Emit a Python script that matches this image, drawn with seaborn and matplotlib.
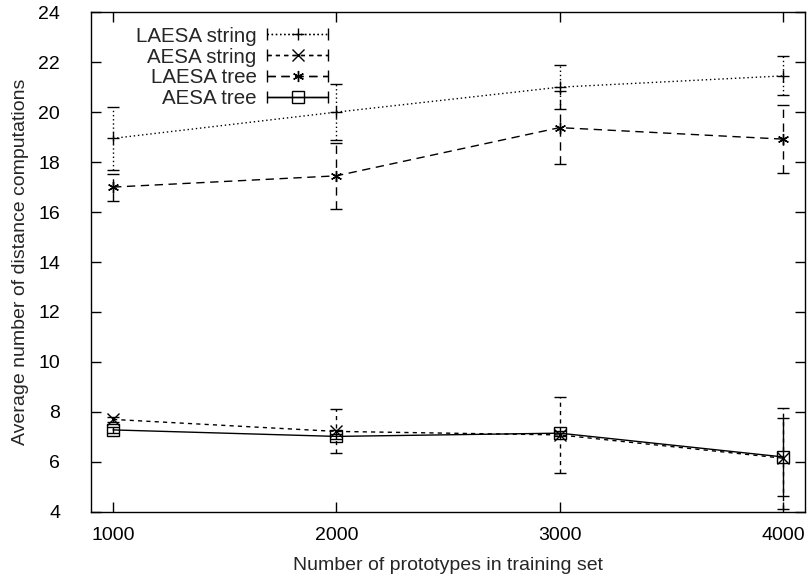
import matplotlib
matplotlib.use("Agg")
import matplotlib.pyplot as plt
import numpy as np
import seaborn as sns
from matplotlib.container import ErrorbarContainer
from matplotlib.legend_handler import HandlerErrorbar

# training set sizes
prototypes = [1000, 2000, 3000, 4000]

# mean number of distance computations
laesa_string = [18.95, 20.0, 21.0, 21.45]
laesa_string_err = [1.27, 1.13, 0.88, 0.78]
aesa_string = [7.7, 7.22, 7.08, 6.15]
aesa_string_err = [0.1, 0.88, 1.52, 2.02]
laesa_tree = [17.0, 17.45, 19.38, 18.92]
laesa_tree_err = [0.54, 1.32, 1.45, 1.35]
aesa_tree = [7.28, 7.02, 7.15, 6.2]
aesa_tree_err = [0.12, 0.1, 0.1, 1.55]

sns.set_theme(style="ticks")
plt.rcParams['font.family'] = ['Liberation Sans', 'DejaVu Sans']

FS = 14

fig, ax = plt.subplots(figsize=(8.1, 5.81), dpi=100)
fig.subplots_adjust(left=0.112, right=0.994, top=0.979, bottom=0.119)

series = [
    ("LAESA string", laesa_string, laesa_string_err, (0, (1, 2)), "+"),
    ("AESA string", aesa_string, aesa_string_err, (0, (3, 3)), "x"),
    ("LAESA tree", laesa_tree, laesa_tree_err, (0, (6, 4)), (6, 2, 0)),
    ("AESA tree", aesa_tree, aesa_tree_err, "-", "s"),
]

style = dict(color="black", linewidth=1.0, markersize=8,
             markerfacecolor="none", markeredgecolor="black",
             markeredgewidth=1.0, capsize=4.5, elinewidth=1.0)

handles = []
for label, vals, errs, ls, mk in series:
    line, caps, bars = ax.errorbar(prototypes, vals, yerr=errs,
                                   linestyle=ls, marker=mk, **style)
    for b in bars:
        b.set_linestyle(ls)
    # legend proxy: horizontal sample with end ticks, like gnuplot keys
    proxy = ax.errorbar([np.nan], [np.nan], xerr=[1], linestyle=ls,
                        marker=mk, label=label, **style)
    for b in proxy[2]:
        b.set_linestyle(ls)
    handles.append(proxy)

ax.set_xlim(900, 4100)
ax.set_ylim(4, 24)
ax.set_xticks(prototypes)
ax.set_yticks(np.arange(4, 25, 2))
ax.tick_params(direction="in", top=True, right=True, length=7, width=1,
               labelsize=FS, colors="black")
ax.tick_params(axis="y", pad=22)
ax.tick_params(axis="x", pad=11)
for s in ax.spines.values():
    s.set_linewidth(1.0)
    s.set_color("black")

ax.set_xlabel("Number of prototypes in training set", fontsize=FS)
ax.set_ylabel("Average number of distance computations", fontsize=FS)
ax.xaxis.set_label_coords(0.5, -0.09)
ax.yaxis.set_label_coords(-0.086, 0.5)

hl = 2.95
ax.legend(handles=handles, labels=[s[0] for s in series],
          loc="upper right", bbox_to_anchor=(0.332, 0.971), frameon=False,
          markerfirst=False, fontsize=14.8, handlelength=hl,
          labelspacing=0.09, handletextpad=0.52, borderpad=0,
          borderaxespad=0,
          handler_map={ErrorbarContainer: HandlerErrorbar(xerr_size=hl / 2)})

fig.savefig("out.png", dpi=100)
